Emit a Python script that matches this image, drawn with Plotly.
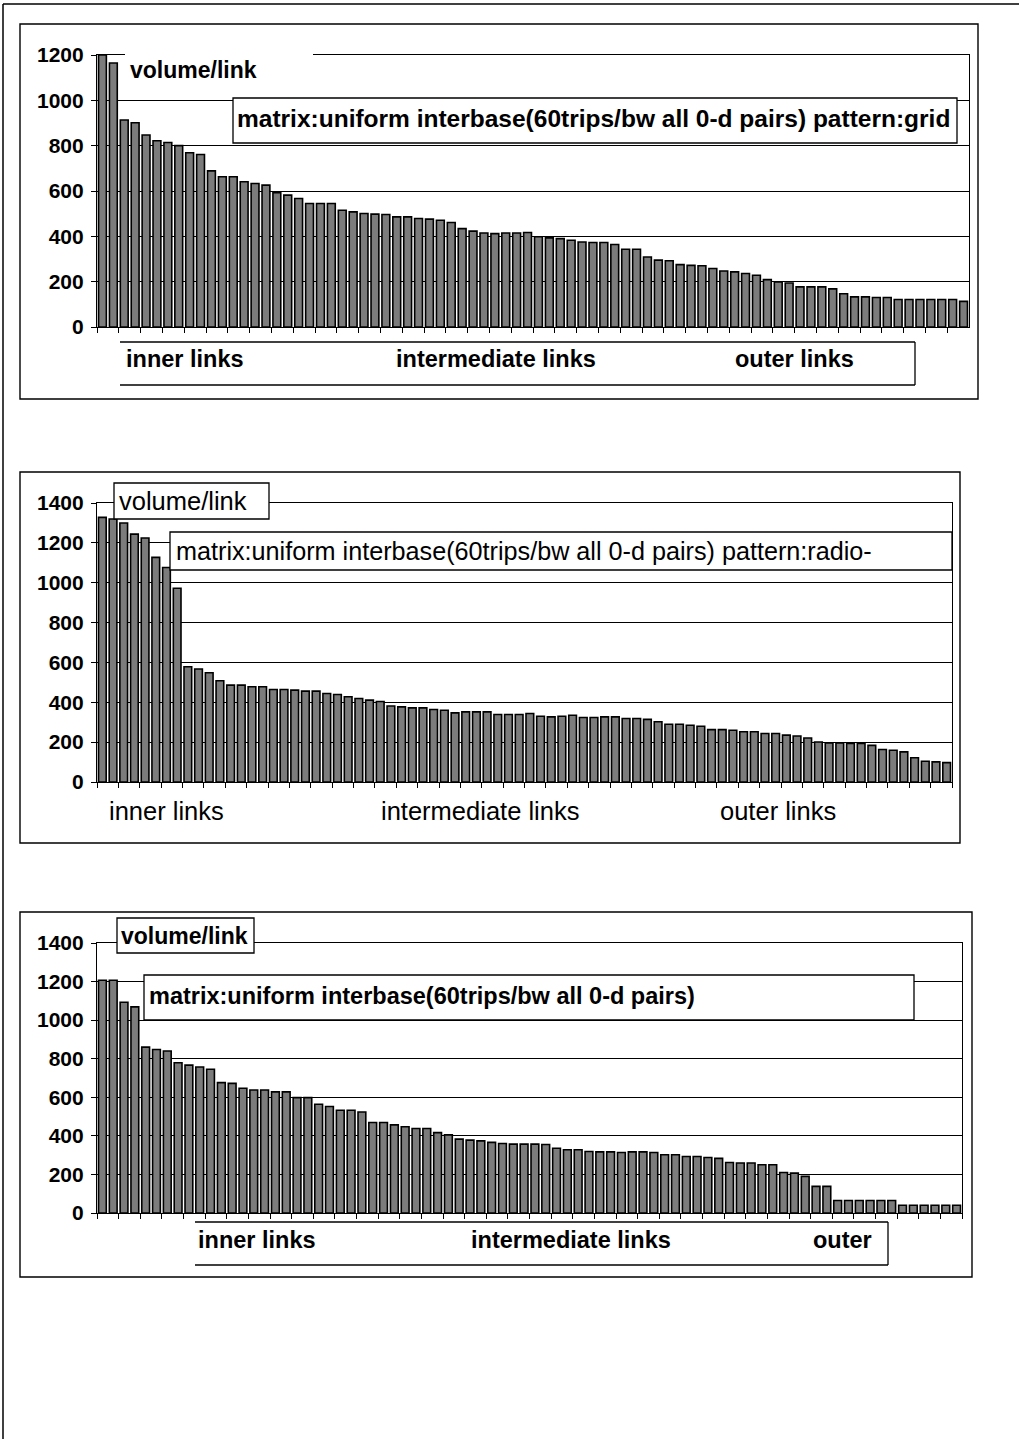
import plotly.graph_objects as go

# Link volumes, sorted from the busiest (inner) links to the quietest (outer) links
vol_grid = [1200, 1165, 913, 901, 847, 822, 814, 800, 769, 761, 689, 663, 663, 641, 633, 626,
            592, 582, 567, 545, 545, 545, 515, 508, 501, 498, 496, 486, 486, 479, 476, 471,
            461, 434, 423, 415, 412, 415, 415,
            417, 398, 393, 390, 383, 375, 373, 373, 364, 343, 343, 309, 295, 292, 275, 272,
            270, 258, 247, 243, 236, 228, 209, 199, 194, 177, 177, 177, 168, 147, 133, 133,
            130, 130, 121, 121, 121, 121, 121, 121, 113]

vol_radio = [1328, 1320, 1300, 1244, 1224, 1127, 1076, 972, 578, 567, 548, 508, 486, 486, 478,
             478, 464, 464, 461, 456, 456, 444, 439, 428, 419, 411, 404, 381, 377, 372, 372,
             364, 360, 347, 352, 352, 352, 339, 339, 339,
             344, 330, 327, 330, 335, 324, 324, 327, 327, 319, 319, 314, 302, 290, 290, 285,
             280, 263, 263, 260, 252, 252, 243, 243, 235, 231, 221, 201, 196, 196, 193, 193,
             184, 163, 159, 151, 122, 104, 101, 97]

vol_third = [1207, 1207, 1093, 1069, 860, 848, 840, 779, 767, 757, 745, 676, 672, 647, 638, 638,
             628, 628, 598, 598, 564, 552, 533, 533, 524, 469, 469, 457, 447, 438, 438, 417,
             405, 383, 378, 374, 366,
             360, 357, 357, 357, 355, 336, 328, 328, 319, 317, 317, 314, 317, 317, 314, 302,
             302, 293, 293, 288, 283, 262, 259, 259, 250, 250, 210, 207, 190, 138, 138, 65,
             65, 65, 65, 65, 65, 40, 40, 40, 40, 40, 40]

links = [str(i + 1) for i in range(len(vol_grid))]

y_max = [1200, 1400, 1400]
y_ticks = [[0, 200, 400, 600, 800, 1000, 1200],
           [0, 200, 400, 600, 800, 1000, 1200, 1400],
           [0, 200, 400, 600, 800, 1000, 1200, 1400]]

series_label = "volume/link"
matrix_titles = [
    "matrix:uniform interbase(60trips/bw all 0-d pairs) pattern:grid",
    "matrix:uniform interbase(60trips/bw all 0-d pairs) pattern:radio-",
    "matrix:uniform interbase(60trips/bw all 0-d pairs)",
]
zone_labels = [
    ["inner links", "intermediate links", "outer links"],
    ["inner links", "intermediate links", "outer links"],
    ["inner links", "intermediate links", "outer"],
]

W, H = 1019, 1439
FONT = "Liberation Sans, Arial, sans-serif"


def fx(px):
    return px / W


def fy(py):
    return 1 - py / H


# pixel geometry of each panel: plot left/right, y of zero and of top value
panels = [
    dict(x0=97, x1=969, y0=327, y1=55),
    dict(x0=97, x1=952, y0=782, y1=503),
    dict(x0=97, x1=962, y0=1213, y1=943),
]

fig = go.Figure()
series = [vol_grid, vol_radio, vol_third]

for i, (vals, p) in enumerate(zip(series, panels)):
    n = "" if i == 0 else str(i + 1)
    fig.add_trace(go.Bar(
        x=links, y=vals, xaxis="x" + n, yaxis="y" + n,
        marker=dict(color="#7c7c7c", line=dict(color="black", width=1.6)),
        showlegend=False, hoverinfo="skip",
    ))
    fig.layout["xaxis" + n] = dict(
        domain=[fx(p["x0"]), fx(p["x1"])], anchor="y" + n,
        type="category", showticklabels=False, tickson="boundaries",
        ticks="outside", ticklen=5, tickcolor="black", tickwidth=1,
        showline=True, linecolor="black", linewidth=1.2, mirror=True,
        showgrid=False, zeroline=False, fixedrange=True, automargin=False,
    )
    fig.layout["yaxis" + n] = dict(
        domain=[fy(p["y0"]), fy(p["y1"])], anchor="x" + n,
        range=[0, y_max[i]], tickvals=y_ticks[i],
        ticks="outside", ticklen=5, tickcolor="black", tickwidth=1,
        tickfont=dict(family=FONT, size=21, color="black", weight="bold"),
        ticklabelstandoff=3, automargin=False,
        showline=True, linecolor="black", linewidth=1.2, mirror=True,
        showgrid=True, gridcolor="black", gridwidth=1, zeroline=False,
    )

shapes = []


def rect(x0, y0, x1, y1, fill="white", line=1.3):
    shapes.append(dict(type="rect", xref="paper", yref="paper", layer="above",
                       x0=fx(x0), x1=fx(x1), y0=fy(y0), y1=fy(y1),
                       fillcolor=fill, line=dict(color="black" if line else "rgba(0,0,0,0)", width=line or 0)))


def seg(x0, y0, x1, y1, w=1.3):
    shapes.append(dict(type="line", xref="paper", yref="paper", layer="above",
                       x0=fx(x0), x1=fx(x1), y0=fy(y0), y1=fy(y1),
                       line=dict(color="black", width=w)))


# page edges
seg(3, 4, 1019, 4, 1.5)
seg(3, 4, 3, 1439, 1.5)

# chart frames
for (a, b, c, d) in [(20, 24, 978, 399), (20, 472, 960, 843), (20, 912, 972, 1277)]:
    shapes.append(dict(type="rect", xref="paper", yref="paper", layer="below",
                       x0=fx(a), x1=fx(c), y0=fy(b), y1=fy(d),
                       fillcolor="rgba(0,0,0,0)", line=dict(color="black", width=1.4)))

# panel 1 labels
rect(125, 42, 313, 92, line=0)
rect(233, 98, 957, 143)
seg(120, 342, 915, 342)
seg(915, 342, 915, 385)
seg(120, 385, 915, 385)
# panel 2 labels
rect(114, 483, 269, 519)
rect(170, 532, 952, 570)
# panel 3 labels
rect(117, 918, 254, 953)
rect(144, 975, 914, 1020)
seg(195, 1222, 888, 1222)
seg(888, 1222, 888, 1265)
seg(195, 1265, 888, 1265)

annotations = []


def text(s, x, y, size=23.5, bold=True):
    annotations.append(dict(text=s, xref="paper", yref="paper", x=fx(x), y=fy(y),
                            xanchor="left", yanchor="middle", showarrow=False,
                            font=dict(family=FONT, size=size, color="black",
                                      weight="bold" if bold else "normal")))


text(series_label, 128, 70, 23)
text(matrix_titles[0], 235, 118, 24.5)
for s, x in zip(zone_labels[0], [124, 394, 733]):
    text(s, x, 359)

text(series_label, 117, 501, 25.5, False)
text(matrix_titles[1], 174, 551, 25.2, False)
for s, x in zip(zone_labels[1], [107, 379, 718]):
    text(s, x, 811, 25.5, False)

text(series_label, 119, 936, 23)
text(matrix_titles[2], 147, 996, 23.5)
for s, x in zip(zone_labels[2], [196, 469, 811]):
    text(s, x, 1240, 23.5)

fig.update_layout(
    width=W, height=H,
    margin=dict(l=0, r=0, t=0, b=0, pad=0, autoexpand=False),
    paper_bgcolor="white", plot_bgcolor="white",
    bargap=0.28, shapes=shapes, annotations=annotations, showlegend=False,
)

fig.write_html(
    "out.html",
    config={"displayModeBar": False},
    post_script="document.body.style.margin='0';document.documentElement.style.overflow='hidden';",
)
